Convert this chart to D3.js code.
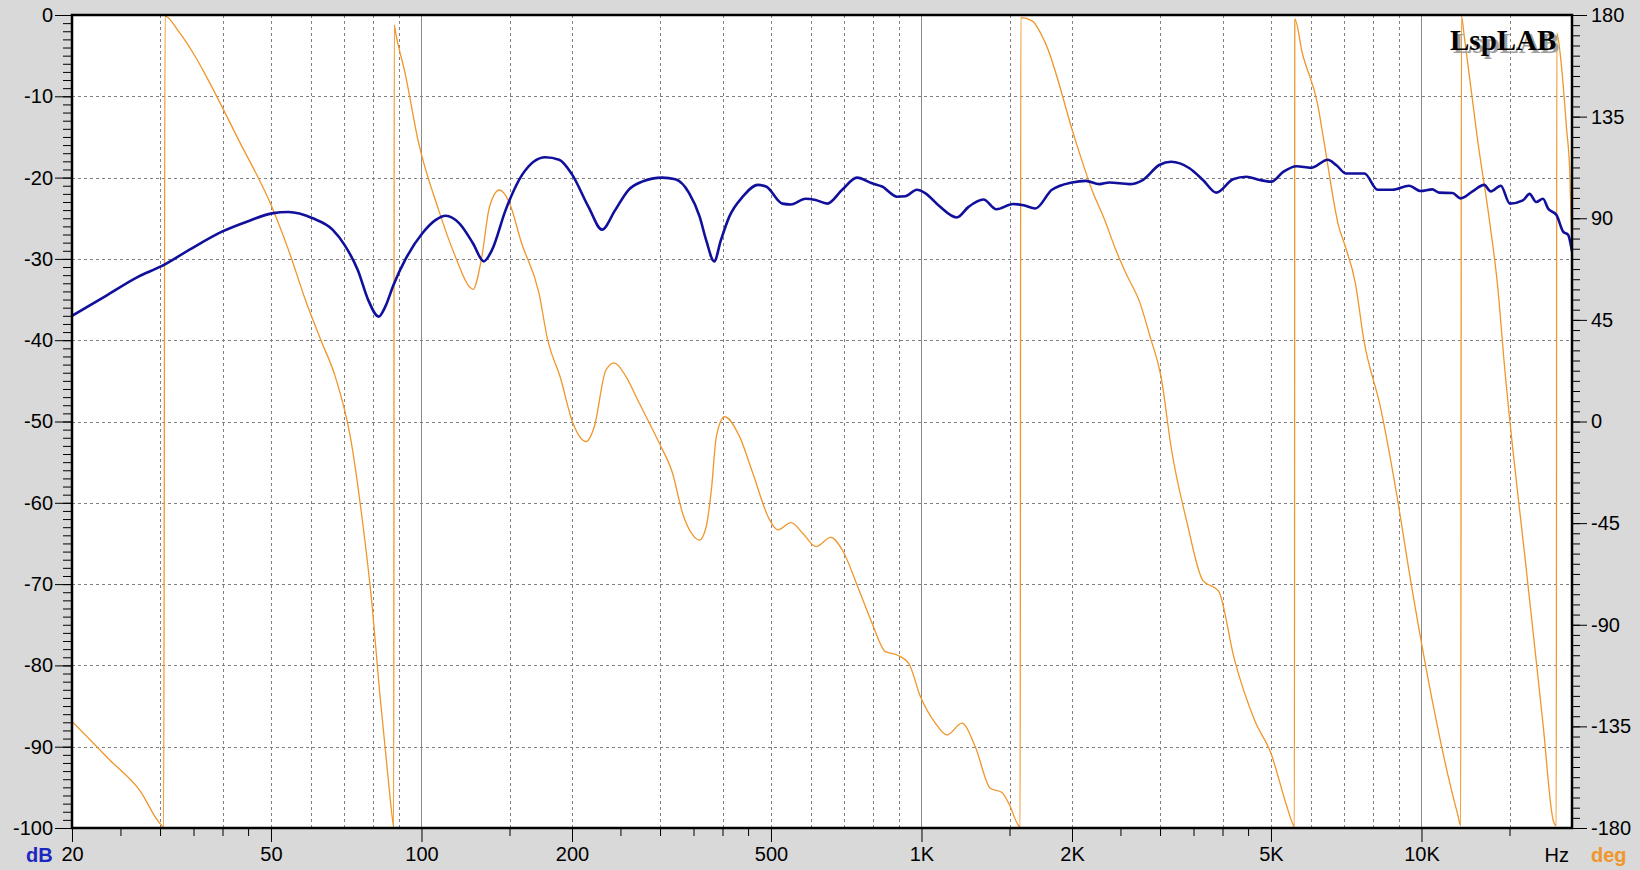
<!DOCTYPE html>
<html>
<head>
<meta charset="utf-8">
<script src="https://cdn.jsdelivr.net/npm/d3@7"></script>
<style>
  html, body { margin: 0; padding: 0; background: #d9d9d9; }
  svg { display: block; }
</style>
</head>
<body>
<svg id="chart" width="1640" height="870"></svg>
<script>
// ---------- DATA ----------
const magHz = [20, 23.3, 27.1, 30.2, 34.3, 39.9, 45.3, 50.2, 54.2, 60.6, 66.4, 70.2, 74.6, 78.3, 82.1, 84.6, 87.9, 92.8,
  100.4, 106.8, 111.8, 118.9, 126.8, 133.2, 138.4, 147.3, 158.8, 176.9, 188.5, 200, 215.8, 229.6, 244, 259.6, 276.2,
  303, 322, 343, 360, 371, 385, 397, 412.7, 439, 470.6, 488.8, 527, 548, 586, 614, 648, 694, 743, 796, 834, 894, 928,
  979, 1017, 1081, 1177, 1242, 1330, 1412, 1524, 1600, 1689, 1823, 2000, 2132, 2268, 2375, 2605, 2770, 2990, 3157,
  3436, 3656, 3886, 4199, 4464, 4748, 5009, 5290, 5622, 6015, 6495, 6750, 7070, 7690, 8170, 8750, 9440, 9960, 10510,
  10840, 11530, 11980, 12650, 13350, 13760, 14410, 15020, 15950, 16450, 16960, 17500, 17910, 18620, 19200, 19650, 20000];
const magDb = [-37.0, -34.6, -32.2, -30.9, -28.9, -26.65, -25.3, -24.4, -24.23, -25.0, -26.4, -28.3, -31.4, -35.1, -37.1, -35.9, -33.2, -30.1,
  -26.85, -25.2, -24.7, -25.6, -28.1, -30.3, -28.9, -24.0, -19.7, -17.5, -17.8, -19.6, -23.6, -26.4, -24.0, -21.5, -20.5,
  -20.0, -20.2, -21.9, -24.8, -27.7, -30.3, -27.7, -24.8, -22.35, -20.9, -21.1, -23.2, -23.3, -22.6, -22.75, -23.2, -21.5, -20.0, -20.7, -21.1, -22.35, -22.3,
  -21.5, -21.9, -23.4, -24.9, -23.6, -22.7, -23.9, -23.25, -23.4, -23.8, -21.5, -20.6, -20.4, -20.8, -20.6, -20.8, -20.3, -18.45, -18.05,
  -18.85, -20.3, -21.85, -20.2, -19.9, -20.3, -20.5, -19.3, -18.6, -18.8, -17.8, -18.45, -19.5, -19.5, -21.5, -21.5, -21.0, -21.65, -21.45,
  -21.85, -21.9, -22.55, -21.7, -20.9, -21.7, -21.0, -23.2, -22.8, -22.0, -23.0, -22.6, -23.8, -24.6, -26.65, -27.05, -29.1];

const phaseHz = [20, 23.8, 27.3, 30.1, 30.5, 30.7, 32.7, 35.3, 37.0, 43.1, 50.2, 54.2, 58.6, 62.9, 67.2, 72.2, 75.8, 79.7, 82.4, 85.6, 87.6, 88.0,
  88.2, 88.8, 92.9, 98.4, 108.2, 116.9, 124.7, 126.8, 131.7, 136.8, 143.2, 149.6, 158.6, 171.8, 178.8, 189.3, 200.9, 213.4, 221.6,
  233.8, 243, 256.4, 272.7, 299, 317.8, 332.8, 348.6, 359.7, 371, 380, 388.8, 403.8, 432.7, 459.9, 497, 515.9, 548.6, 578.8, 615.4,
  658.5, 694.4, 749.8, 796.8, 846.7, 893.8, 943, 995, 1066, 1124, 1205, 1281, 1373, 1449, 1495, 1575,
  1580, 1664, 1765, 2031, 2193, 2325, 2447, 2564, 2737, 2865, 3013, 3162, 3398, 3653, 3926, 4221, 4648, 4995, 5370, 5528, 5570,
  5580, 5771, 6201, 6376, 6832, 7043, 7376, 7668, 8282, 8900, 9550, 10510, 11280, 11830, 11980,
  12020, 12180, 12950, 13700, 14200, 14650, 16250, 17480, 18350, 18600,
  18650, 19000, 19500, 19800, 20000];
const phaseDeg = [-132.8, -149.9, -163.2, -178.4, -179.5, 179.5, 172.6, 161.5, 153.4, 124.6, 95.1, 76, 53.8, 36.1, 20.0, -7.8, -40.2, -81.9, -119, -156, -176.8, -179.5,
  175.6, 172, 153.4, 124.6, 93.7, 73, 59.7, 58.5, 71.5, 95.1, 102.5, 97.3, 78.9, 56.8, 36.1, 19.9, -0.8, -8.9, -2.3,
  22.8, 26.0, 19.9, 8.05, -9.65, -22.9, -40.6, -50.2, -52.5, -46.6, -30.3, -6.7, 2.1, -6.7, -22.9, -43.6, -48.0, -44.8, -49.5, -55.4,
  -51.3, -56.9, -74.6, -89.4, -101.9, -103.4, -107.1, -121.8, -133.6, -138.8, -133.6, -144.0, -162.4, -164.3, -169.1, -179.4,
  178.8, 177.4, 168.1, 124.6, 102.5, 89.2, 76.0, 65.6, 52.3, 37.6, 20, -12.4, -44.9, -70.3, -75, -105, -132.8, -146.7, -169.9, -178.2, -179.5,
  178.3, 163.5, 140.3, 124.6, 86.3, 77.4, 61.2, 36.1, 6.1, -31, -72.7, -123.6, -156, -174.5, -179,
  179.5, 170.4, 124.6, 87.8, 60, 25, -68, -132.8, -176.8, -179,
  172, 160, 130, 110, 75];

const dbTicks = [0, -10, -20, -30, -40, -50, -60, -70, -80, -90, -100];
const degTicks = [180, 135, 90, 45, 0, -45, -90, -135, -180];
const freqMajorTicks = [20, 50, 100, 200, 500, 1000, 2000, 5000, 10000];
const freqMajorLabels = ["20", "50", "100", "200", "500", "1K", "2K", "5K", "10K"];
const freqMinorTicks = [25, 30, 35, 40, 45, 150, 250, 300, 350, 400, 450, 1500, 2500, 3000, 3500, 4000, 4500, 15000];
const freqGridDashed = [30, 40, 50, 60, 70, 80, 90, 150, 200, 300, 400, 500, 600, 700, 800, 900,
  1500, 2000, 3000, 4000, 5000, 6000, 7000, 8000, 9000, 15000];
const freqGridSolid = [100, 1000, 10000];
const dbGrid = [-10, -20, -30, -40, -50, -60, -70, -80, -90];

// ---------- LAYOUT ----------
const L = 72, R = 1572, T = 15, B = 828;
const SANS = "'Liberation Sans', Arial, sans-serif";
const SERIF = "'Liberation Serif', 'Times New Roman', serif";
const svg = d3.select("#chart");

const x = d3.scaleLog().domain([20, 20000]).range([L, R]);
const yL = d3.scaleLinear().domain([-100, 0]).range([B, T]);
const yR = d3.scaleLinear().domain([-180, 180]).range([B, T]);

svg.append("rect").attr("x", L).attr("y", T).attr("width", R - L).attr("height", B - T).attr("fill", "#ffffff");

// grid
const grid = svg.append("g");
grid.selectAll("line.vd").data(freqGridDashed).join("line")
  .attr("x1", d => Math.round(x(d)) + 0.5).attr("x2", d => Math.round(x(d)) + 0.5)
  .attr("y1", T).attr("y2", B)
  .attr("stroke", "#808080").attr("stroke-width", 1).attr("stroke-dasharray", "3,3");
grid.selectAll("line.vs").data(freqGridSolid).join("line")
  .attr("x1", d => Math.round(x(d)) + 0.5).attr("x2", d => Math.round(x(d)) + 0.5)
  .attr("y1", T).attr("y2", B)
  .attr("stroke", "#8a8a8a").attr("stroke-width", 1);
grid.selectAll("line.h").data(dbGrid).join("line")
  .attr("x1", L).attr("x2", R)
  .attr("y1", d => Math.round(yL(d)) + 0.5).attr("y2", d => Math.round(yL(d)) + 0.5)
  .attr("stroke", "#808080").attr("stroke-width", 1).attr("stroke-dasharray", "3,3");

// curves
svg.append("clipPath").attr("id", "plotclip")
  .append("rect").attr("x", L).attr("y", T - 1).attr("width", R - L).attr("height", B - T + 2);

const phaseLine = d3.line().x(d => x(d[0])).y(d => yR(d[1])).curve(d3.curveMonotoneX);
const magLine = d3.line().x(d => x(d[0])).y(d => yL(d[1])).curve(d3.curveMonotoneX);

svg.append("path")
  .datum(phaseHz.map((f, i) => [f, phaseDeg[i]]))
  .attr("clip-path", "url(#plotclip)")
  .attr("d", phaseLine).attr("fill", "none")
  .attr("stroke", "#f0962a").attr("stroke-width", 1.3);

svg.append("path")
  .datum(magHz.map((f, i) => [f, magDb[i]]))
  .attr("clip-path", "url(#plotclip)")
  .attr("d", magLine).attr("fill", "none")
  .attr("stroke", "#10109c").attr("stroke-width", 2.6).attr("stroke-linejoin", "round");

// axes
function styleAxis(g) {
  g.select(".domain").remove();
  g.selectAll(".tick line").attr("stroke", "#000").attr("stroke-width", 1);
  g.selectAll(".tick text").attr("fill", "#000").style("font-size", "20px").style("font-family", SANS);
}

svg.append("g").attr("transform", `translate(${L},0)`)
  .call(d3.axisLeft(yL).tickValues(d3.range(-100, 1, 1)).tickSize(9).tickFormat(""))
  .call(styleAxis);
svg.append("g").attr("transform", `translate(${L},0)`)
  .call(d3.axisLeft(yL).tickValues(dbTicks).tickSize(17).tickPadding(2).tickFormat(d => d === 0 ? "0" : "-" + Math.abs(d)))
  .call(styleAxis);

svg.append("g").attr("transform", `translate(${R},0)`)
  .call(d3.axisRight(yR).tickValues(d3.range(-180, 180.1, 4.5)).tickSize(8).tickFormat(""))
  .call(styleAxis);
svg.append("g").attr("transform", `translate(${R},0)`)
  .call(d3.axisRight(yR).tickValues(degTicks).tickSize(15).tickPadding(4).tickFormat(d => d < 0 ? "-" + Math.abs(d) : String(d)))
  .call(styleAxis);

svg.append("g").attr("transform", `translate(0,${B})`)
  .call(d3.axisBottom(x).tickValues(freqMinorTicks).tickSize(8).tickFormat(""))
  .call(styleAxis);
svg.append("g").attr("transform", `translate(0,${B})`)
  .call(d3.axisBottom(x).tickValues(freqMajorTicks).tickSize(14).tickPadding(5)
    .tickFormat((d, i) => freqMajorLabels[i]))
  .call(styleAxis);

// frame
svg.append("rect").attr("x", L).attr("y", T).attr("width", R - L).attr("height", B - T)
  .attr("fill", "none").attr("stroke", "#000").attr("stroke-width", 2.5);

// unit labels
svg.append("text").attr("x", 26).attr("y", 862).text("dB")
  .style("font-family", SANS).style("font-size", "20px").style("font-weight", "bold").attr("fill", "#1c28c0");
svg.append("text").attr("x", 1569).attr("y", 862).attr("text-anchor", "end").text("Hz")
  .style("font-family", SANS).style("font-size", "20px").attr("fill", "#000");
svg.append("text").attr("x", 1591).attr("y", 862).text("deg")
  .style("font-family", SANS).style("font-size", "20px").style("font-weight", "bold").attr("fill", "#f0962a");

// brand
const brand = "LspLAB";
svg.append("text").attr("x", 1453).attr("y", 53).text(brand)
  .style("font-family", SERIF).style("font-size", "29px").style("font-weight", "bold").attr("fill", "#a0a0a0");
svg.append("text").attr("x", 1450).attr("y", 50).text(brand)
  .style("font-family", SERIF).style("font-size", "29px").style("font-weight", "bold").attr("fill", "#000");
</script>
</body>
</html>
